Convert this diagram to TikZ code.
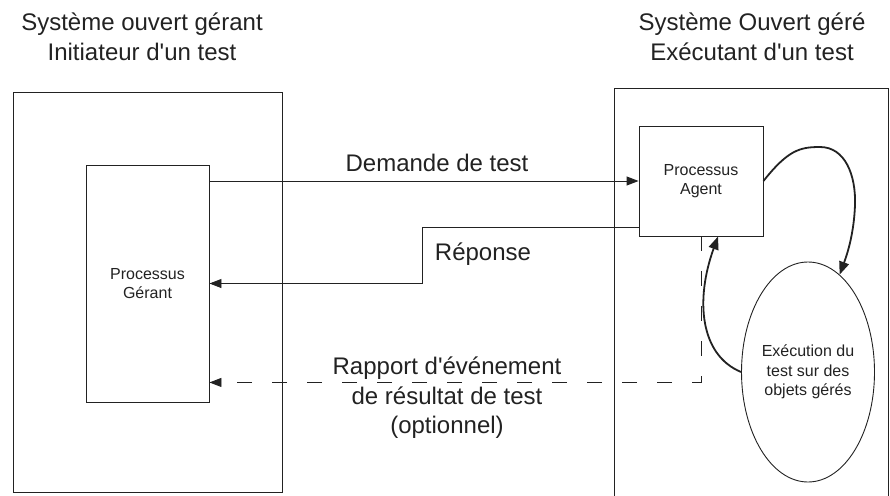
\documentclass[tikz,border=0pt]{standalone}
\usepackage{fontspec}
\setmainfont{Liberation Sans}
\usetikzlibrary{arrows.meta,shapes.geometric}
\definecolor{ink}{HTML}{222222}
\newcommand{\apo}{\textquotesingle}
\tikzset{
  frame/.style={draw=ink, line width=0.9pt, rectangle, inner sep=0pt},
  proc/.style={draw=ink, line width=0.9pt, rectangle, inner sep=0pt, align=center,
    font=\fontsize{16}{19.5}\selectfont, text=ink},
  big/.style={align=center, font=\fontsize{24}{29.5}\selectfont, text=ink, inner sep=0pt},
  msg/.style={draw=ink, line width=0.9pt, -{Triangle[length=12pt,width=9pt]}},
  loop/.style={draw=ink, line width=1.8pt, -{Triangle[length=13pt,width=10pt]}},
  opt/.style={msg, dash pattern=on 15pt off 20pt}
}
\begin{document}
\begin{tikzpicture}[x=1pt,y=-1pt]
\useasboundingbox (0,0) rectangle (890,495);
\clip (0,0) rectangle (890,495);

% headings of the two open systems
\node[big] (tleft) at (142,37) {Système ouvert gérant\\Initiateur d\apo un test};
\node[big] (tright) at (752,37) {Système Ouvert géré\\Exécutant d\apo un test};

% system frames
\node[frame, minimum width=269pt, minimum height=400pt] (leftsys) at (147.5,292) {};
\node[frame, minimum width=274pt, minimum height=422pt] (rightsys) at (751,299) {};

% processes
\node[proc, minimum width=123pt, minimum height=237pt] (gerant) at (147.5,283.5) {Processus\\Gérant};
\node[proc, minimum width=124pt, minimum height=110pt] (agent) at (701,181) {Processus\\Agent};
\node[proc, ellipse, minimum width=133pt, minimum height=220pt] (exec) at (808,372)
  {Exécution du\\test sur des\\objets gérés};

% exchanges between the processes
\draw[msg] (gerant.east |- agent.west) -- (agent.west);
\draw[msg] ([yshift=9pt]agent.south west) -- ++(-216,0) |- (gerant.east);
\draw[opt] (agent.south) |- ([yshift=20pt]gerant.south east);

\node[big] (lreq) at (437,163) {Demande de test};
\node[big] (lrep) at (483,254) {Réponse};
\node[big] (lrap) at (447,398) {Rapport d\apo événement\\de résultat de test\\(optionnel)};

% test execution loop
\draw[loop] (agent.east) .. controls (788,150) and (800,147) .. (820,147)
  .. controls (845,147) and (856,175) .. (855,205)
  .. controls (854,232) and (848,252) .. (exec.72);
\draw[loop] (exec.west) .. controls (700,355) and (695,300) .. ([xshift=17pt]agent.south);
\end{tikzpicture}
\end{document}
